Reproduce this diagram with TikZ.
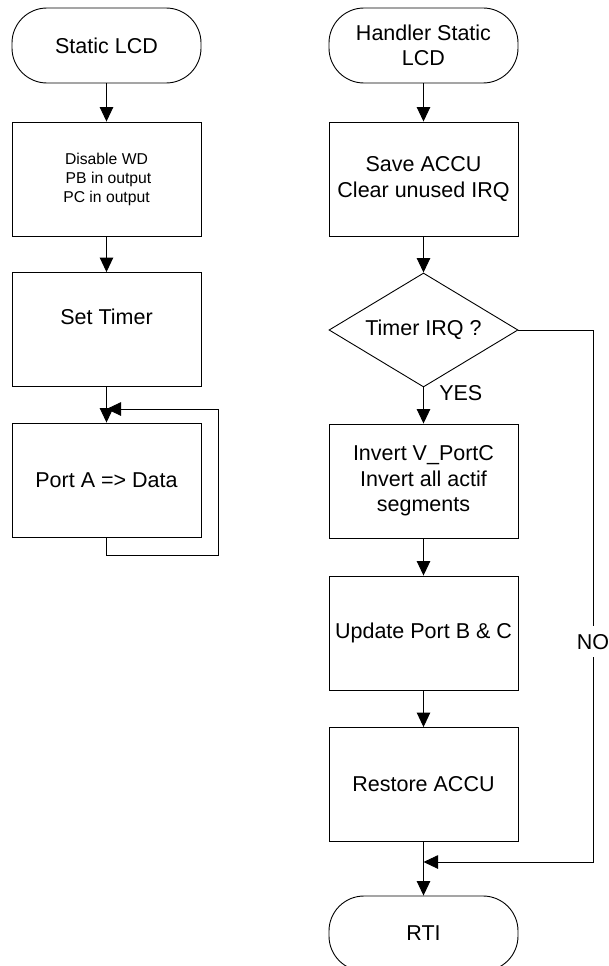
\documentclass[tikz,border=0pt]{standalone}
\usepackage{fontspec}
\setmainfont{Liberation Sans}
\usetikzlibrary{arrows.meta,calc,shapes.geometric}

\begin{document}
\begin{tikzpicture}[
    x=1pt, y=-1pt,
    >={Triangle[length=14.5pt,width=13.5pt]},
    line join=miter,
    font=\fontsize{21.5}{25.5}\selectfont,
    flow/.style={->, line width=0.9pt},
    proc/.style={draw, line width=0.9pt, minimum width=\boxw pt,
        minimum height=\boxh pt, inner sep=0pt, align=center},
    term/.style={proc, minimum height=75pt, rounded corners=35pt},
    test/.style={draw, diamond, line width=0.9pt, shape aspect=1.66,
        minimum width=\boxw pt, minimum height=\boxh pt, inner sep=0pt, align=center}
]

% Parameters
\def\boxw{189}
\def\boxh{114}
\def\colL{106.5}
\def\colR{423.5}

\useasboundingbox (0,0) rectangle (608,966);

% Main program
\node[term] (lstart) at (\colL,45.5) {Static LCD};
\node[proc, font=\fontsize{15.7}{19}\selectfont] (linit) at (\colL,179)
    {Disable WD\\\hspace*{4pt}PB in output\\PC in output};
\node[proc] (ltimer) at (\colL,329.5) {Set Timer\\\mbox{}};
\node[proc] (lport) at (\colL,480) {Port A => Data};

\coordinate (ljoin) at (\colL,409);
\coordinate (lloop) at (218.5,409);

\draw[flow] (lstart) -- (linit);
\draw[flow] (linit) -- (ltimer);
\draw[flow] (ltimer) -- (lport);

% Endless loop
\draw[flow] (lport.south) -- ++(0,18) -| (lloop) -- (ljoin);

% Interrupt handler
\node[term] (rstart) at (\colR,45.5) {Handler Static\\LCD};
\node[proc] (rsave) at (\colR,179) {Save ACCU\\Clear unused IRQ};
\node[test] (rtest) at (\colR,330) {Timer IRQ ?};
\node[proc] (rinvert) at (\colR,481) {Invert V\_PortC\\Invert all actif\\segments};
\node[proc] (rupdate) at (\colR,633) {Update Port B \& C};
\node[proc] (rrestore) at (\colR,784.5) {Restore ACCU};
\node[term] (rend) at (\colR,933.5) {RTI};

\coordinate (rjoin) at (\colR,862);
\coordinate (rside) at (593,862);

\draw[flow] (rstart) -- (rsave);
\draw[flow] (rsave) -- (rtest);
\draw[flow] (rtest) -- node[pos=0.17, right, xshift=12pt] {YES} (rinvert);
\draw[flow] (rinvert) -- (rupdate);
\draw[flow] (rupdate) -- (rrestore);
\draw[flow] (rrestore) -- (rend);

% Timer IRQ not set
\draw[flow] (rtest.east) -| node[pos=0.793, fill=white, inner xsep=1pt, inner ysep=8pt] {NO}
    (rside) -- (rjoin);

\end{tikzpicture}
\end{document}
